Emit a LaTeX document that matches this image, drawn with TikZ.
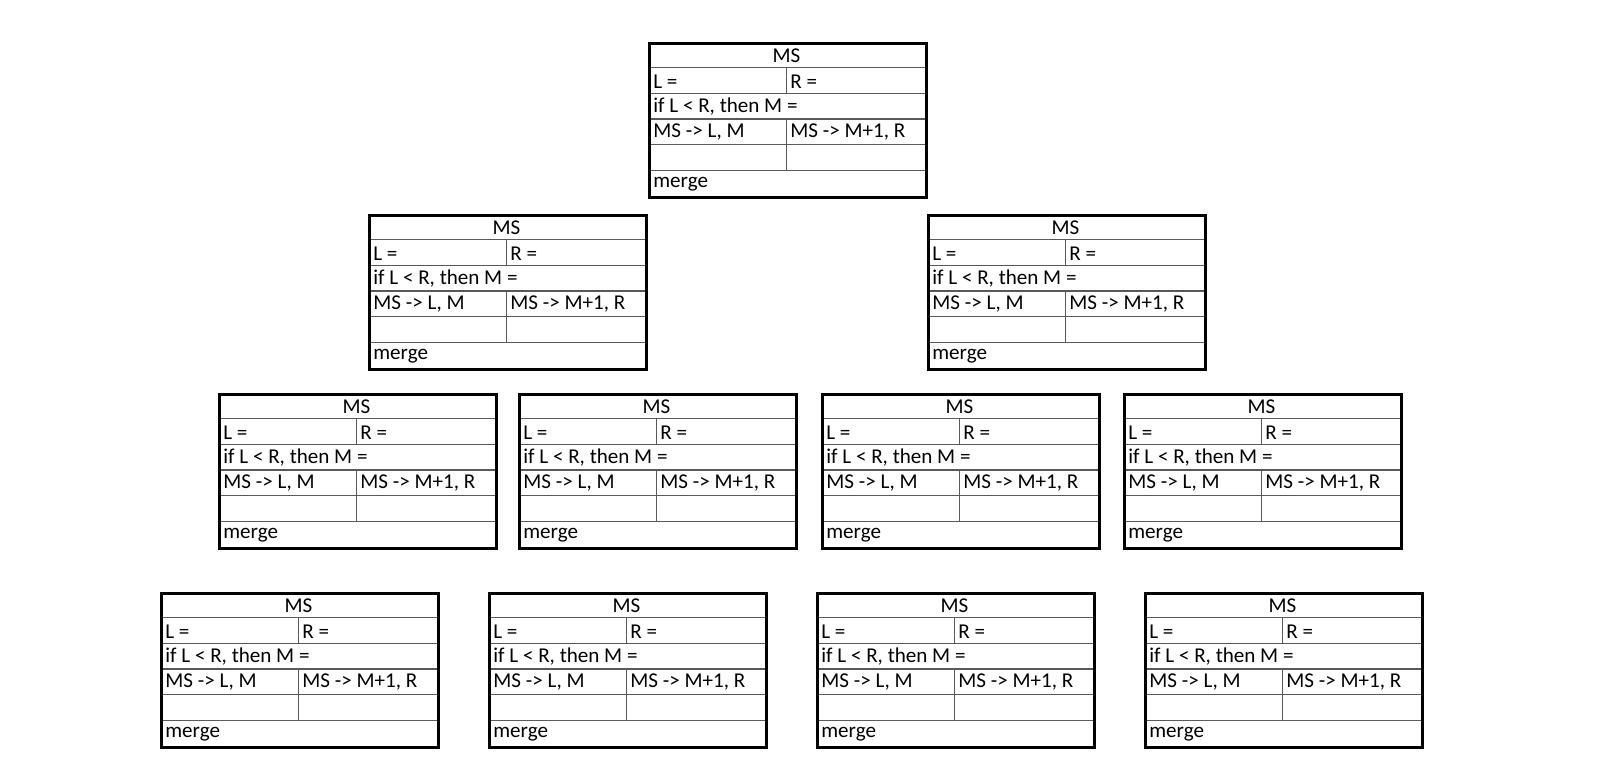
\documentclass[tikz,border=0pt]{standalone}
\usepackage{fontspec}
\setmainfont{Carlito}
\tikzset{
  frame/.style = { draw, rectangle, line width=1.7pt, minimum width=5.54cm, minimum height=3.08cm, inner sep=0pt },
  grid/.style  = { line width=0.6pt, black!65 },
  cell/.style  = { anchor=west, inner sep=0pt, font=\fontsize{12}{14}\selectfont },
  title/.style = { inner sep=0pt, font=\fontsize{12}{14}\selectfont }
}
% one merge-sort card: name, left, top
\newcommand{\mscard}[3]{%
  \begin{scope}[shift={(#2,#3)}]
    \draw[grid] (0,-0.513) -- (5.54,-0.513) (0,-1.027) -- (5.54,-1.027) (0,-1.540) -- (5.54,-1.540);
    \draw[grid] (0,-2.053) -- (5.54,-2.053) (0,-2.567) -- (5.54,-2.567);
    \draw[grid] (2.77,-0.513) -- (2.77,-1.027) (2.77,-1.540) -- (2.77,-2.567);
    \node[frame, anchor=north west] (#1) at (0,0) {};
    \node[title] (#1-ms) at (2.77,-0.28) {MS};
    \node[cell] (#1-l) at (0.1,-0.79) {L =};
    \node[cell] (#1-r) at (2.84,-0.79) {R =};
    \node[cell] (#1-if) at (0.1,-1.30) {if L < R, then M =};
    \node[cell] (#1-left) at (0.1,-1.81) {MS -> L, M};
    \node[cell] (#1-right) at (2.84,-1.81) {MS -> M+1, R};
    \node[cell] (#1-merge) at (0.1,-2.84) {merge};
  \end{scope}}
\begin{document}
\begin{tikzpicture}
  \useasboundingbox (0,0) rectangle (32.36,-15.68);
  % Draw root
  \mscard{root}{12.96}{-0.84}
  % Draw second level
  \mscard{a}{7.36}{-4.28}
  \mscard{b}{18.54}{-4.28}
  % Draw third level
  \mscard{aa}{4.36}{-7.86}
  \mscard{ab}{10.36}{-7.86}
  \mscard{ba}{16.42}{-7.86}
  \mscard{bb}{22.46}{-7.86}
  % Draw fourth level
  \mscard{aaa}{3.20}{-11.84}
  \mscard{aab}{9.76}{-11.84}
  \mscard{aba}{16.32}{-11.84}
  \mscard{abb}{22.88}{-11.84}
\end{tikzpicture}
\end{document}
